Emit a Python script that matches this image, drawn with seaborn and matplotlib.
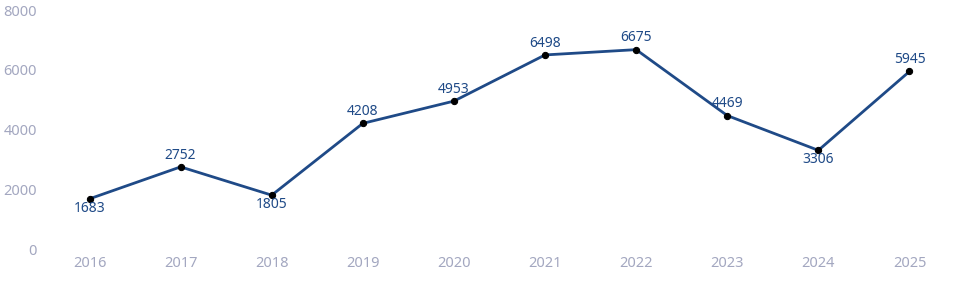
import matplotlib
matplotlib.use("Agg")
import matplotlib.pyplot as plt
import seaborn as sns
import pandas as pd

years = ["2016", "2017", "2018", "2019", "2020", "2021", "2022", "2023", "2024", "2025"]
values = [1683, 2752, 1805, 4208, 4953, 6498, 6675, 4469, 3306, 5945]
label_below = [True, False, True, False, False, False, False, False, True, False]
yticks = [0, 2000, 4000, 6000, 8000]

sns.set_style("white")
plt.rcParams['font.family'] = ['Noto Sans', 'DejaVu Sans']

df = pd.DataFrame({"year": years, "value": values})

fig = plt.figure(figsize=(9.6, 2.87), dpi=100)
ax = fig.add_axes([0.0458, 0.132, 0.949, 0.833])

line_color = "#1f4a87"
sns.lineplot(data=df, x="year", y="value", ax=ax, color=line_color, linewidth=2,
             marker="o", markersize=4.5, markerfacecolor="black", markeredgecolor="black",
             sort=False)

for i, (y, v) in enumerate(zip(years, values)):
    if label_below[i]:
        ax.annotate(str(v), (i, v), xytext=(0, -1.5), textcoords="offset points",
                    ha="center", va="top", fontsize=10, color=line_color)
    else:
        ax.annotate(str(v), (i, v), xytext=(0, 3), textcoords="offset points",
                    ha="center", va="bottom", fontsize=10, color=line_color)

ax.set_xlim(-0.5, len(years) - 0.5)
ax.set_ylim(0, 8000)
ax.set_yticks(yticks)
ax.set_yticklabels([str(t) for t in yticks])
ax.set_xlabel("")
ax.set_ylabel("")
ax.tick_params(axis="both", colors="#a3a7c0", labelsize=10.5, length=0)
ax.tick_params(axis="y", pad=5)
ax.tick_params(axis="x", pad=5)
for s in ax.spines.values():
    s.set_visible(False)
ax.grid(False)

fig.savefig("out.png", dpi=100)
